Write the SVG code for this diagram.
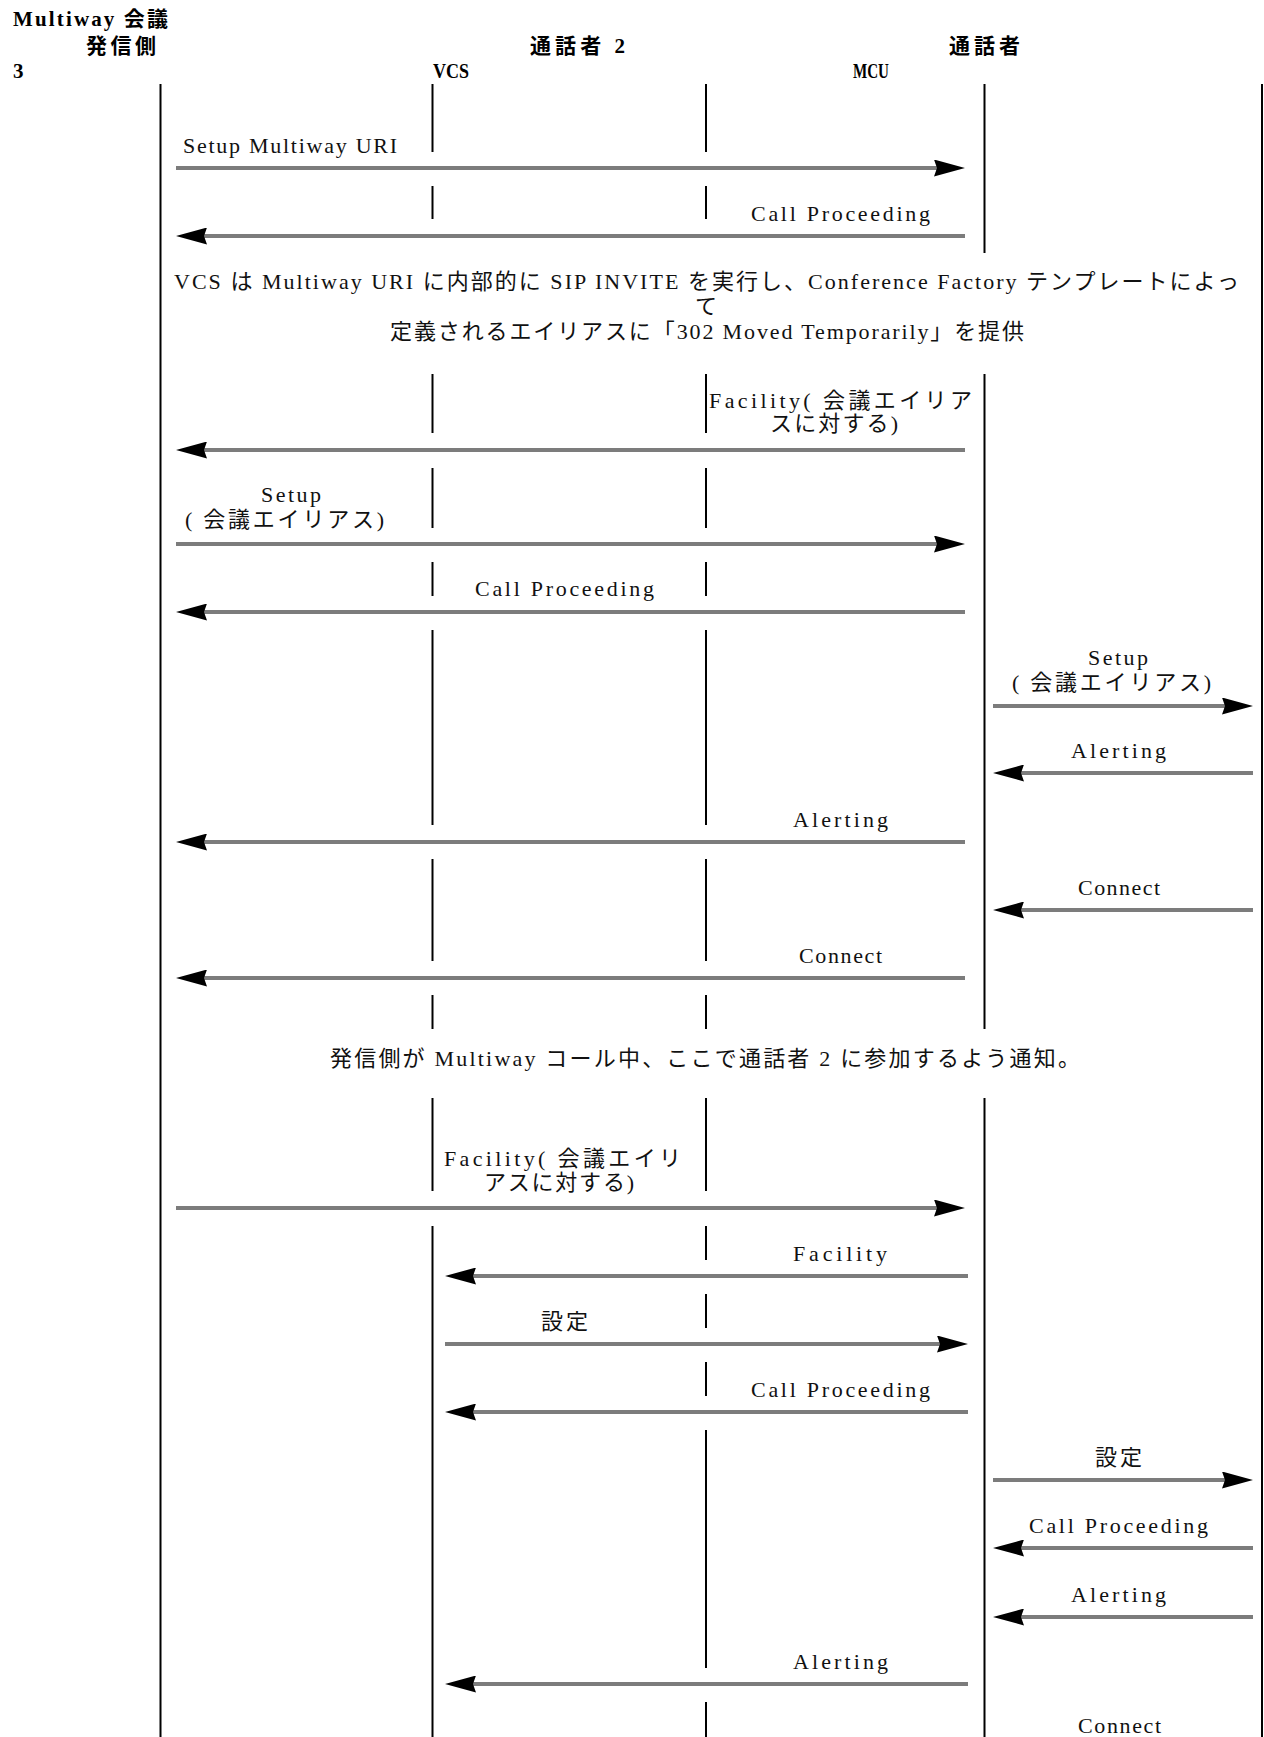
<svg xmlns="http://www.w3.org/2000/svg" width="1264" height="1737" viewBox="0 0 1264 1737">
<style>
.hdr{font-family:"Liberation Serif","Noto Sans CJK JP",serif;font-size:21px;font-weight:bold;fill:#000}
.lbl{font-family:"Liberation Serif","Noto Sans CJK JP",serif;font-size:22px;fill:#111}
.life{fill:none;stroke:#000;stroke-width:2}
.msg{fill:none;stroke:#7c7c7c;stroke-width:4;marker-end:url(#head)}
</style>
<defs>
<marker id="head" viewBox="0 0 31 17" refX="11" refY="8.5" markerWidth="31" markerHeight="17" markerUnits="userSpaceOnUse" orient="auto">
<path d="M0,0 L31,8.5 L0,17 L3,8.5 Z" fill="#000"/>
</marker>
</defs>
<rect width="1264" height="1737" fill="#fff"/>

<g id="header">
<text class="hdr" x="13" y="26" textLength="155" lengthAdjust="spacing">Multiway 会議</text>
<text class="hdr" x="86" y="53" textLength="70" lengthAdjust="spacing">発信側</text>
<text class="hdr" x="13" y="78">3</text>
<text class="hdr" x="530" y="53" textLength="95" lengthAdjust="spacing">通話者 2</text>
<text class="hdr" x="433" y="78" textLength="36" lengthAdjust="spacingAndGlyphs">VCS</text>
<text class="hdr" x="949" y="53" textLength="71" lengthAdjust="spacing">通話者</text>
<text class="hdr" x="853" y="78" textLength="36" lengthAdjust="spacingAndGlyphs">MCU</text>
</g>

<g id="lifeline-caller">
<path class="life" d="M160.5,84 V1737"/>
</g>
<g id="lifeline-vcs">
<path class="life" d="M432.5,84 V152 M432.5,186 V219 M432.5,374 V433 M432.5,468 V528 M432.5,562 V596 M432.5,630 V825 M432.5,859 V961 M432.5,995 V1029 M432.5,1098 V1191 M432.5,1226 V1737"/>
</g>
<g id="lifeline-participant2">
<path class="life" d="M706,84 V152 M706,186 V219 M706,374 V433 M706,468 V528 M706,562 V596 M706,630 V825 M706,859 V961 M706,995 V1029 M706,1098 V1191 M706,1226 V1260 M706,1294 V1328 M706,1362 V1396 M706,1430 V1668 M706,1702 V1737"/>
</g>
<g id="lifeline-mcu">
<path class="life" d="M984.5,84 V253 M984.5,374 V1029 M984.5,1098 V1737"/>
</g>
<g id="lifeline-participant3">
<path class="life" d="M1262,84 V1737"/>
</g>

<g id="note-1">
<text class="lbl" x="174" y="289" textLength="1065" lengthAdjust="spacing">VCS は Multiway URI に内部的に SIP INVITE を実行し、Conference Factory テンプレートによっ</text>
<text class="lbl" x="706" y="314" text-anchor="middle">て</text>
<text class="lbl" x="390" y="339" textLength="634" lengthAdjust="spacing">定義されるエイリアスに「302 Moved Temporarily」を提供</text>
</g>
<g id="note-2">
<text class="lbl" x="330" y="1066" textLength="750" lengthAdjust="spacing">発信側が Multiway コール中、ここで通話者 2 に参加するよう通知。</text>
</g>

<g id="connectors">
<line class="msg" x1="176" y1="168" x2="945" y2="168"/>
<text class="lbl" x="183" y="153" textLength="214" lengthAdjust="spacing">Setup Multiway URI</text>

<line class="msg" x1="965" y1="236" x2="196" y2="236"/>
<text class="lbl" x="751" y="221" textLength="179" lengthAdjust="spacing">Call Proceeding</text>

<line class="msg" x1="965" y1="450" x2="196" y2="450"/>
<text class="lbl" x="709" y="408" textLength="263" lengthAdjust="spacing">Facility( 会議エイリア</text>
<text class="lbl" x="770" y="431" textLength="128" lengthAdjust="spacing">スに対する)</text>

<line class="msg" x1="176" y1="544" x2="945" y2="544"/>
<text class="lbl" x="261" y="502" textLength="60" lengthAdjust="spacing">Setup</text>
<text class="lbl" x="185" y="527" textLength="199" lengthAdjust="spacing">( 会議エイリアス)</text>

<line class="msg" x1="965" y1="612" x2="196" y2="612"/>
<text class="lbl" x="475" y="596" textLength="179" lengthAdjust="spacing">Call Proceeding</text>

<line class="msg" x1="993" y1="706" x2="1233" y2="706"/>
<text class="lbl" x="1088" y="665" textLength="60" lengthAdjust="spacing">Setup</text>
<text class="lbl" x="1012" y="690" textLength="199" lengthAdjust="spacing">( 会議エイリアス)</text>

<line class="msg" x1="1253" y1="773" x2="1013" y2="773"/>
<text class="lbl" x="1071" y="758" textLength="95" lengthAdjust="spacing">Alerting</text>

<line class="msg" x1="965" y1="842" x2="196" y2="842"/>
<text class="lbl" x="793" y="827" textLength="95" lengthAdjust="spacing">Alerting</text>

<line class="msg" x1="1253" y1="910" x2="1013" y2="910"/>
<text class="lbl" x="1078" y="895" textLength="82" lengthAdjust="spacing">Connect</text>

<line class="msg" x1="965" y1="978" x2="196" y2="978"/>
<text class="lbl" x="799" y="963" textLength="83" lengthAdjust="spacing">Connect</text>

<line class="msg" x1="176" y1="1208" x2="945" y2="1208"/>
<text class="lbl" x="444" y="1166" textLength="237" lengthAdjust="spacing">Facility( 会議エイリ</text>
<text class="lbl" x="484" y="1190" textLength="150" lengthAdjust="spacing">アスに対する)</text>

<line class="msg" x1="968" y1="1276" x2="465" y2="1276"/>
<text class="lbl" x="793" y="1261" textLength="94" lengthAdjust="spacing">Facility</text>

<line class="msg" x1="445" y1="1344" x2="948" y2="1344"/>
<text class="lbl" x="541" y="1329" textLength="47" lengthAdjust="spacing">設定</text>

<line class="msg" x1="968" y1="1412" x2="465" y2="1412"/>
<text class="lbl" x="751" y="1397" textLength="179" lengthAdjust="spacing">Call Proceeding</text>

<line class="msg" x1="993" y1="1480" x2="1233" y2="1480"/>
<text class="lbl" x="1095" y="1465" textLength="47" lengthAdjust="spacing">設定</text>

<line class="msg" x1="1253" y1="1548" x2="1013" y2="1548"/>
<text class="lbl" x="1029" y="1533" textLength="179" lengthAdjust="spacing">Call Proceeding</text>

<line class="msg" x1="1253" y1="1617" x2="1013" y2="1617"/>
<text class="lbl" x="1071" y="1602" textLength="95" lengthAdjust="spacing">Alerting</text>

<line class="msg" x1="968" y1="1684" x2="465" y2="1684"/>
<text class="lbl" x="793" y="1669" textLength="95" lengthAdjust="spacing">Alerting</text>

<text class="lbl" x="1078" y="1733" textLength="83" lengthAdjust="spacing">Connect</text>
</g>
</svg>
